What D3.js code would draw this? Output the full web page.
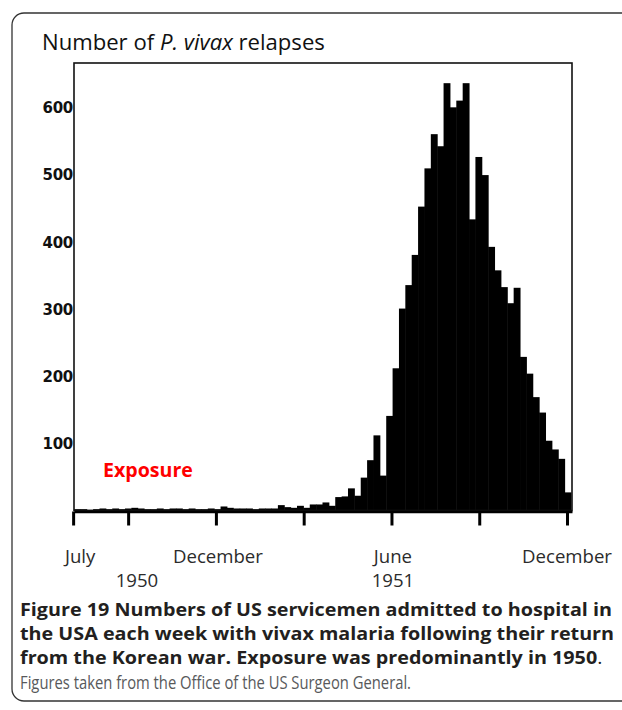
<!DOCTYPE html>
<html><head><meta charset="utf-8">
<script src="https://cdn.jsdelivr.net/npm/d3@7/dist/d3.min.js"></script>
<style>body{margin:0;background:#fff}svg{display:block}</style>
</head><body>
<svg id="c" width="622" height="710"></svg>
<script>
// ---- data ----
const weeks = d3.range(1, 79).map(d => "W" + d);   // weekly bins, July 1950 - Dec 1951
const relapses = [
  2, 2, 1, 2, 3, 2, 3, 2, 3, 4, 3, 2, 2, 3, 2, 3, 3, 2, 3, 2,
  2, 3, 2, 6, 4, 3, 3, 3, 2, 3, 3, 3, 8, 5, 4, 7, 4, 9, 9, 12,
  7, 20, 21, 33, 22, 49, 75, 112, 52, 141, 212, 301, 336, 381, 453, 510, 561, 543, 637, 601,
  611, 637, 434, 527, 500, 393, 358, 333, 309, 332, 229, 204, 169, 146, 104, 91, 77, 27
];
const yTicks = [100, 200, 300, 400, 500, 600];
const tickMonths = [0.12, 2, 5, 8, 11, 14, 17];          // months after 1 July 1950
const monthLabels = ["July", "December", "June", "December"];
const monthLabelAt = [0.36, 5.07, 11.05, 17];
const yearLabels = ["1950", "1951"];
const yearLabelAt = [2.3, 11.05];
const titleParts = [["Number of ", "normal"], ["P. vivax", "italic"], [" relapses", "normal"]];
const captionBold = [
  "Figure 19 Numbers of US servicemen admitted to hospital in",
  "the USA each week with vivax malaria following their return",
  "from the Korean war. Exposure was predominantly in 1950"
];
const captionNote = "Figures taken from the Office of the US Surgeon General.";

// ---- layout ----
const svg = d3.select("#c");
const P = {left: 74, right: 572, top: 63, bottom: 510.5};
const x = d3.scaleBand().domain(weeks).range([P.left, P.right - 1]).paddingInner(0).paddingOuter(0);
const y = d3.scaleLinear().domain([0, 600]).range([P.bottom, 108]);
const m = d3.scaleLinear().domain([0.15, 17.17]).range([P.left, P.right]);
const sans = "'Open Sans', 'Noto Sans', sans-serif";

function fit(sel, w) {
  const cur = sel.node().getComputedTextLength();
  const fs = parseFloat(sel.attr("font-size"));
  sel.attr("font-size", fs * w / cur);
  return sel;
}

// card border
svg.append("rect").attr("x", 12).attr("y", 13).attr("width", 650).attr("height", 688)
  .attr("rx", 12).attr("fill", "none").attr("stroke", "#333").attr("stroke-width", 1.3);

// title
const title = svg.append("text").attr("x", 42).attr("y", 50).attr("font-family", sans)
  .attr("font-size", 20).attr("fill", "#111");
title.selectAll("tspan").data(titleParts).join("tspan")
  .attr("font-style", d => d[1]).text(d => d[0]);
fit(title, 283);

// bars
svg.append("g").selectAll("rect").data(relapses).join("rect")
  .attr("x", (d, i) => x(weeks[i]))
  .attr("width", x.bandwidth() + 0.5)
  .attr("y", d => y(d))
  .attr("height", d => y(0) - y(d))
  .attr("fill", "#000");

// plot frame
svg.append("rect").attr("x", P.left).attr("y", P.top)
  .attr("width", P.right - P.left).attr("height", P.bottom - P.top)
  .attr("fill", "none").attr("stroke", "#111").attr("stroke-width", 1.6);

// x axis
const xa = svg.append("g").attr("transform", `translate(0,${P.bottom + 1})`)
  .call(d3.axisBottom(m).tickValues(tickMonths).tickSize(14).tickSizeOuter(0).tickFormat(""));
xa.select(".domain").attr("stroke", "#000").attr("stroke-width", 2.4);
xa.selectAll(".tick line").attr("stroke", "#000").attr("stroke-width", 3);

// y labels
svg.append("g").selectAll("text").data(yTicks).join("text")
  .attr("x", P.left - 1).attr("y", d => y(d)).attr("dy", "0.36em")
  .attr("text-anchor", "end").attr("font-family", "'DejaVu Sans', sans-serif")
  .attr("font-weight", "bold").attr("font-size", 15).attr("fill", "#111")
  .attr("letter-spacing", "-0.3").text(d => d);

// month & year labels
svg.append("g").selectAll("text").data(monthLabels).join("text")
  .attr("x", (d, i) => m(monthLabelAt[i])).attr("y", 563)
  .attr("text-anchor", "middle").attr("font-family", sans).attr("font-size", 18.6)
  .attr("fill", "#2b2b2b").text(d => d);
svg.append("g").selectAll("text").data(yearLabels).join("text")
  .attr("x", (d, i) => m(yearLabelAt[i])).attr("y", 587)
  .attr("text-anchor", "middle").attr("font-family", sans).attr("font-size", 18.6)
  .attr("fill", "#2b2b2b").text(d => d);

// Exposure annotation
const ex = svg.append("text").attr("x", 103).attr("y", 477).attr("font-family", sans)
  .attr("font-weight", 700).attr("font-size", 19).attr("fill", "#f00").text("Exposure");
fit(ex, 90);

// caption (condensed to the reference's line widths)
const cap = svg.append("g");
const capFs = 18;
const lines = captionBold.map((t, i) => {
  const tx = cap.append("text").attr("x", 20).attr("y", 616 + i * 24).attr("font-family", sans)
    .attr("font-weight", 700).attr("font-size", capFs).attr("fill", "#231f20").text(t);
  if (i === 2) tx.append("tspan").attr("font-weight", 400).text(".");
  return tx;
});
const ratio = 592 / lines[0].node().getComputedTextLength();
lines.forEach(tx => {
  const w = tx.node().getComputedTextLength();
  tx.attr("textLength", w * ratio).attr("lengthAdjust", "spacingAndGlyphs");
});
const note = cap.append("text").attr("x", 20).attr("y", 689).attr("font-family", sans)
  .attr("font-size", 18).attr("fill", "#58595b").text(captionNote);
note.attr("textLength", 391).attr("lengthAdjust", "spacingAndGlyphs");
</script>
</body></html>
